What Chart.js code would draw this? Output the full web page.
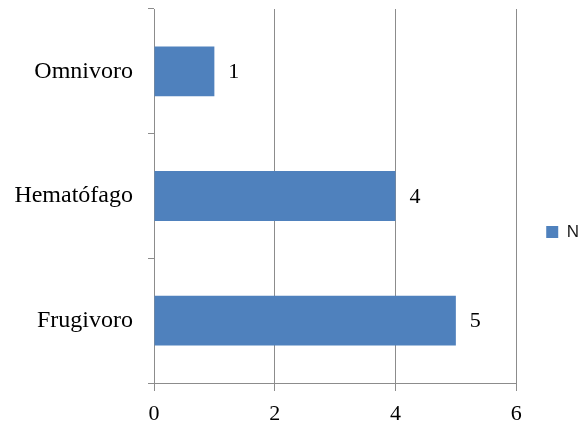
<!DOCTYPE html>
<html>
<head>
<meta charset="utf-8">
<script src="https://cdn.jsdelivr.net/npm/chart.js"></script>
<style>
  html, body { margin: 0; padding: 0; background: #fff; }
  #wrap { width: 580px; height: 425px; }
</style>
</head>
<body>
<div id="wrap"><canvas id="dietChart"></canvas></div>
<script>
const categories = ["Omnivoro", "Hematófago", "Frugivoro"];
const seriesName = "N";
const counts = [1, 4, 5];
const xTicks = [0, 2, 4, 6];

const barBlue = "#4f81bd";
const axisGray = "#8c8c8c";
const serif = "'Liberation Serif', 'Times New Roman', serif";

// writes the count just past the end of each bar
const valueLabels = {
  id: "valueLabels",
  afterDatasetsDraw(chart) {
    const ctx = chart.ctx;
    const meta = chart.getDatasetMeta(0);
    ctx.save();
    ctx.font = "22px " + serif;
    ctx.fillStyle = "#000";
    ctx.textAlign = "left";
    ctx.textBaseline = "middle";
    meta.data.forEach((bar, i) => {
      ctx.fillText(String(counts[i]), bar.x + 14, bar.y + 1);
    });
    ctx.restore();
  }
};

const ctx = document.getElementById("dietChart").getContext("2d");
const chart = new Chart(ctx, {
  type: "bar",
  data: {
    labels: categories,
    datasets: [{
      label: seriesName,
      data: counts,
      backgroundColor: barBlue,
      borderWidth: 0,
      barPercentage: 0.4,
      categoryPercentage: 1.0
    }]
  },
  options: {
    indexAxis: "y",
    responsive: true,
    maintainAspectRatio: false,
    animation: false,
    layout: { padding: { top: 9, bottom: 0, left: 0, right: -9 } },
    plugins: {
      tooltip: { enabled: false },
      legend: {
        position: "right",
        align: "center",
        // empty title only pushes the legend entry down a little
        title: { display: true, text: "", font: { size: 5 }, padding: { top: 24, bottom: 0 } },
        labels: {
          boxWidth: 12,
          boxHeight: 12,
          padding: 30,
          color: "#1a1a1a",
          font: { family: "'Liberation Sans', Arial, sans-serif", size: 17 }
        }
      }
    },
    scales: {
      x: {
        min: 0,
        max: 6,
        afterBuildTicks(scale) {
          scale.ticks = xTicks.map(v => ({ value: v }));
        },
        afterFit(scale) {
          scale.height = 42;
          scale.paddingLeft = 0;
          scale.paddingRight = 0;
        },
        grid: {
          color: axisGray,
          tickColor: axisGray,
          tickLength: 8,
          lineWidth: 1
        },
        border: { color: axisGray, width: 1 },
        ticks: {
          color: "#000",
          padding: 10,
          font: { family: serif, size: 22 }
        }
      },
      y: {
        offset: true,
        afterFit(scale) {
          scale.width = 154;
          scale.paddingTop = 0;
          scale.paddingBottom = 0;
        },
        grid: {
          offset: true,
          drawOnChartArea: false,
          tickColor: axisGray,
          tickLength: 6
        },
        border: { color: axisGray, width: 1 },
        ticks: {
          color: "#000",
          padding: 15,
          font: { family: serif, size: 24 }
        }
      }
    }
  },
  plugins: [valueLabels]
});
</script>
</body>
</html>
